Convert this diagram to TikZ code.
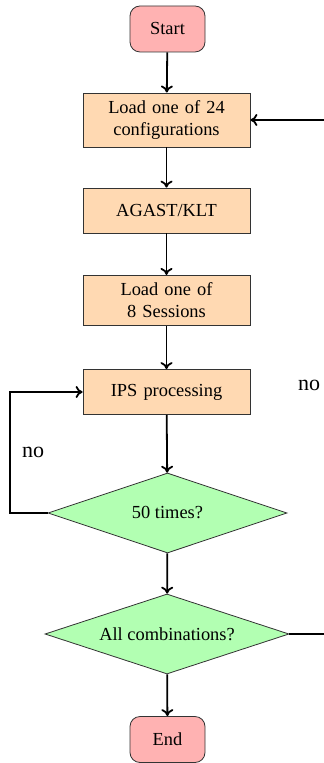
\documentclass[tikz,border=0pt]{standalone}
\usepackage{fontspec}
\setmainfont{Liberation Serif}
\usetikzlibrary{shapes.geometric,arrows.meta}
\begin{document}
\begin{tikzpicture}[x=0.5pt,y=-0.5pt,
  term/.style={rectangle,rounded corners=5pt,draw=black!80,fill=red!30,minimum width=37.5pt,minimum height=23pt,inner sep=0pt,font=\fontsize{9.2}{11}\selectfont},
  proc/.style={rectangle,draw=black!80,fill=orange!30,text width=83.5pt,align=center,minimum height=22.5pt,inner xsep=0pt,inner ysep=3.8pt,font=\fontsize{9.2}{11}\selectfont},
  dec/.style={diamond,shape aspect=3,draw=black!80,fill=green!30,minimum height=40pt,inner sep=0pt,font=\fontsize{9.2}{11}\selectfont},
  conn/.style={-{To[length=3.5pt,width=6pt]},line width=0.9pt},
  lbl/.style={font=\fontsize{11}{13}\selectfont}]
\useasboundingbox (0,0) rectangle (324,763);
\clip (0,0) rectangle (324,763);
\node[term] (start) at (167.5,29) {Start};
\node[proc] (load24) at (166.5,120) {Load one of 24\\configurations};
\node[proc] (agast) at (166.5,210.5) {AGAST/KLT};
\node[proc] (load8) at (166.5,300.5) {Load one of\\8 Sessions};
\node[proc] (ips) at (166.5,392) {IPS processing};
\node[dec,minimum width=119.5pt] (fifty) at (167.5,513) {50 times?};
\node[dec,minimum width=122pt] (all) at (167,634) {All combinations?};
\node[term] (end) at (167.5,739.5) {End};
\coordinate (lp) at (10,513);
\coordinate (rp) at (360,634);
\node[lbl] (no1) at (33,452) {no};
\node[lbl] (no2) at (309,385) {no};
\draw[conn] (start) -- (load24);
\draw[conn] (load24) -- (agast);
\draw[conn] (agast) -- (load8);
\draw[conn] (load8) -- (ips);
\draw[conn] (ips) -- (fifty);
\draw[conn] (fifty) -- (all);
\draw[conn] (all) -- (end);
\draw[conn] (fifty.west) -- (lp) |- (ips.west);
\draw[conn] (all.east) -- (rp) |- (load24.east);
\end{tikzpicture}
\end{document}
